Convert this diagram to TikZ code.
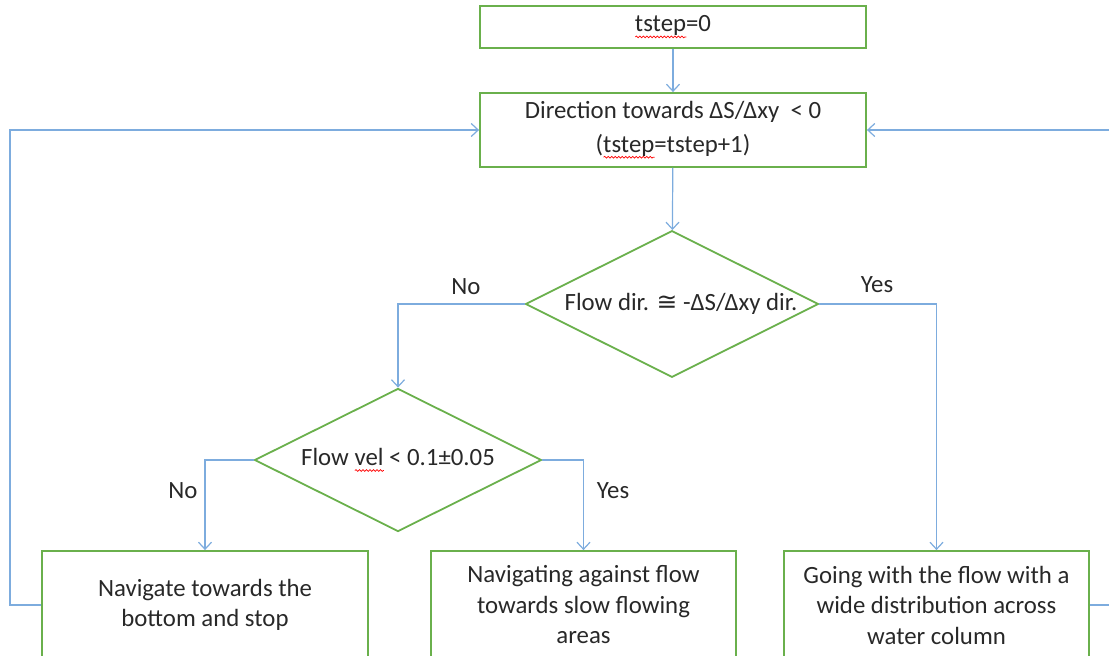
\documentclass[tikz,border=0pt]{standalone}
\usepackage{fontspec}
\setmainfont{Carlito}
\newfontfamily\symfont{DejaVu Sans}
\usepackage{tikz}
\usetikzlibrary{arrows.meta,positioning,shapes.geometric,decorations.pathmorphing}
\definecolor{boxg}{RGB}{106,176,76}
\definecolor{lnb}{RGB}{125,172,222}
\definecolor{txt}{RGB}{40,40,40}
\newlength{\spellw}
\newcommand{\spellchk}[1]{\settowidth{\spellw}{#1}\rlap{\tikz[baseline=0pt,x=1pt,y=1pt]\draw[red,line width=0.7pt,decorate,decoration={snake,amplitude=0.9pt,segment length=3.5pt}] (0,-5) -- (\spellw,-5);}#1}

\begin{document}
\begin{tikzpicture}[x=1pt,y=-1pt,text=txt,font=\fontsize{24.8}{30.5}\selectfont,
  box/.style={draw=boxg,line width=1.8pt,rectangle,align=center,inner sep=0pt},
  decide/.style={draw=boxg,line width=1.8pt,diamond,inner sep=0pt,shape aspect=2},
  arr/.style={draw=lnb,line width=1.2pt,-{Straight Barb[length=7pt,width=13pt]}},
  lnk/.style={draw=lnb,line width=1.2pt}]
  \clip (0,0) rectangle (1109,656);
  \node[box,minimum width=386pt,minimum height=42pt] (init) at (673,27) {\spellchk{tstep}=0};
  \node[box,minimum width=386pt,minimum height=74pt] (dir) at (673,130) {Direction towards ΔS/Δxy\ \ < 0\\[3pt](\spellchk{tstep}=tstep+1)};
  \node[decide,minimum width=290pt,minimum height=145pt] (flowdir) at (672,304) {\hspace{18pt}Flow dir. {\symfont ≅} -ΔS/Δxy dir.};
  \node[decide,minimum width=287pt,minimum height=143pt] (flowvel) at (398,460) {Flow \spellchk{vel} < 0.1±0.05};
  % outcomes (cut off at the bottom)
  \node[box,minimum width=326pt,minimum height=108pt] (stop) at (205,605) {Navigate towards the\\bottom and stop};
  \node[box,minimum width=305pt,minimum height=108pt] (slow) at (583.5,605) {Navigating against flow\\towards slow flowing\\areas};
  \node[box,minimum width=305pt,minimum height=108pt] (drift) at (936.5,605) {Going with the flow with a\\wide distribution across\\water column};
  \node (no1) at (466,287) {No}; \node (yes1) at (877,285) {Yes};
  \node (no2) at (183,491) {No}; \node (yes2) at (613,491) {Yes};
  \draw[arr] (init) -- (dir);
  \draw[arr] (dir) -- (flowdir);
  \draw[arr] (flowdir.west) -| (flowvel.north);
  \draw[arr] (flowdir.east) -| (drift.north);
  \draw[arr] (flowvel.west) -| (stop.north);
  \draw[arr] (flowvel.east) -| (slow.north);
  % loops back to the top
  \coordinate (lft) at (10,0); \coordinate (rgt) at (1120,0);
  \draw[arr] (stop.west) -- (stop.west -| lft) |- (dir.west);
  \draw[lnk] (drift.east) -- (drift.east -| rgt);
  \draw[arr] (dir.east -| rgt) -- (dir.east);
\end{tikzpicture}
\end{document}
